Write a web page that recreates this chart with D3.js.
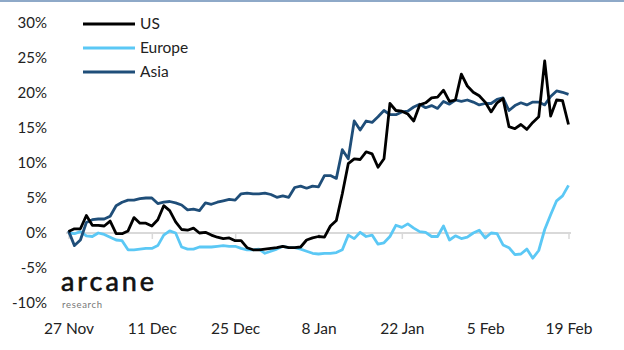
<!DOCTYPE html>
<html><head><meta charset="utf-8">
<script src="https://cdn.jsdelivr.net/npm/d3@7"></script>
<style>
html,body{margin:0;padding:0;background:#fff;}
svg{display:block;font-family:Lato,"Open Sans",sans-serif;}
</style></head>
<body>
<svg id="chart" width="624" height="350"></svg>
<script>
const startDate = new Date(2020, 10, 27);
const endDate = new Date(2021, 1, 19);
const seriesNames = ["US", "Europe", "Asia"];
const seriesColors = ["#000000", "#5BC8F5", "#1F4E79"];
const yTicks = [-10, -5, 0, 5, 10, 15, 20, 25, 30];
const xTickLabels = ["27 Nov", "11 Dec", "25 Dec", "8 Jan", "22 Jan", "5 Feb", "19 Feb"];

const us = [0.2,0.6,0.6,2.5,1.1,1.1,1.0,1.7,-0.1,-0.1,0.3,2.2,1.4,1.4,1.0,1.9,3.9,3.2,1.6,0.5,0.4,0.7,0.0,0.1,-0.3,-0.6,-0.8,-0.7,-1.1,-1.1,-2.1,-2.4,-2.4,-2.3,-2.2,-2.1,-1.9,-2.1,-2.1,-2.0,-1.0,-0.7,-0.5,-0.6,1.0,1.8,5.6,9.9,10.6,10.5,11.6,11.3,9.4,10.6,18.5,17.5,17.4,17.0,16.0,18.3,18.6,19.3,19.4,20.4,18.8,19.0,22.7,21.0,20.1,19.6,18.7,17.3,18.6,19.2,15.2,14.9,15.5,14.8,15.8,16.6,24.6,16.7,19.0,18.9,15.5];
const europe = [0.0,-0.1,0.2,-0.4,-0.5,0.0,-0.2,-0.6,-1.0,-1.1,-2.4,-2.4,-2.3,-2.2,-2.2,-1.8,-0.3,0.3,0.0,-2.0,-2.3,-2.3,-2.0,-2.0,-2.0,-1.9,-1.8,-1.9,-1.9,-2.2,-2.4,-2.4,-2.3,-2.9,-2.6,-2.3,-1.9,-2.1,-2.1,-2.3,-2.6,-2.9,-3.0,-2.9,-2.9,-2.8,-2.4,-0.3,-0.8,0.1,-0.5,-0.3,-1.6,-1.4,-0.5,1.1,0.8,1.3,0.7,0.2,0.1,-0.5,-0.5,1.0,-1.0,-0.4,-0.8,-0.6,0.0,0.4,-0.7,0.0,-0.1,-1.7,-2.1,-3.1,-3.0,-2.3,-3.6,-2.5,0.5,2.6,4.6,5.3,6.8];
const asia = [0.3,-1.8,-1.0,1.5,1.9,2.0,2.0,2.4,3.9,4.4,4.7,4.7,4.9,5.0,5.0,4.2,4.4,4.5,4.3,4.0,3.3,3.4,3.2,4.3,4.1,4.4,4.6,4.8,4.7,5.6,5.7,5.6,5.6,5.7,5.5,5.1,5.3,5.1,6.5,6.7,6.4,6.7,6.6,8.2,8.2,7.8,11.9,10.6,16.0,14.7,16.0,15.8,16.6,17.5,16.9,16.9,17.3,17.4,18.0,18.4,17.9,18.2,17.8,18.8,18.4,19.0,18.8,19.0,18.7,18.3,18.5,18.5,19.1,19.3,17.5,18.2,18.6,18.3,18.7,18.7,18.3,19.5,20.3,20.1,19.8];

const series = [us, europe, asia];
const dates = d3.timeDay.range(startDate, d3.timeDay.offset(endDate, 1));
const tickDates = xTickLabels.map((_, i) => d3.timeDay.offset(startDate, i * 14));

const svg = d3.select("#chart");
const x = d3.scaleTime().domain([startDate, endDate]).range([68.5, 568.5]);
const y = d3.scaleLinear().domain([-10, 30]).range([303, 23]);

// top frame line
svg.append("line").attr("x1", 0).attr("x2", 624).attr("y1", 1).attr("y2", 1)
  .attr("stroke", "#8EA9C8").attr("stroke-width", 2);

// y axis labels
const yAxis = d3.axisLeft(y).tickValues(yTicks).tickFormat(d => d + "%").tickSize(0).tickPadding(0);
const gy = svg.append("g").attr("transform", "translate(47,0)").call(yAxis);
gy.select(".domain").remove();
gy.selectAll("text").attr("font-size", 15).attr("fill", "#222").attr("font-family", "Lato, 'Open Sans', sans-serif");

// zero axis line with ticks
const xAxis = d3.axisBottom(x).tickValues(tickDates).tickFormat((d, i) => xTickLabels[i]).tickSize(6).tickSizeOuter(0);
const gx = svg.append("g").attr("transform", `translate(0,${y(0)})`).call(xAxis);
gx.select(".domain").attr("stroke", "#D9D9D9").attr("stroke-width", 2)
  .attr("d", `M66,0H571`);
gx.selectAll(".tick line").attr("stroke", "#D9D9D9").attr("stroke-width", 1.5);
gx.selectAll(".tick text").attr("y", 96).attr("dy", "0.32em")
  .attr("font-size", 15.5).attr("fill", "#222").attr("font-family", "Lato, 'Open Sans', sans-serif");

// lines
const line = d3.line().x((d, i) => x(dates[i])).y(d => y(d));
[europe, asia, us].forEach((s) => {
  const k = series.indexOf(s);
  svg.append("path").datum(s).attr("d", line).attr("fill", "none")
    .attr("stroke", seriesColors[k]).attr("stroke-width", 2.8)
    .attr("stroke-linejoin", "round");
});

// legend
const lg = svg.append("g");
seriesNames.forEach((n, i) => {
  const yy = 24 + i * 24;
  lg.append("line").attr("x1", 83).attr("x2", 135).attr("y1", yy).attr("y2", yy)
    .attr("stroke", seriesColors[i]).attr("stroke-width", 2.8);
  lg.append("text").attr("x", 140).attr("y", yy).attr("dy", "0.35em")
    .attr("font-size", 15.5).attr("fill", "#222").text(n);
});

// logo
svg.append("text").attr("x", 61).attr("y", 291).attr("font-size", 27)
  .attr("font-weight", 400).attr("fill", "#111").attr("stroke", "#111").attr("stroke-width", 0.6)
  .attr("textLength", 93).attr("lengthAdjust", "spacing").text("arcane");
svg.append("text").attr("x", 62).attr("y", 308).attr("font-size", 9.5)
  .attr("fill", "#777").attr("textLength", 40).attr("lengthAdjust", "spacing").text("research");
</script>
</body></html>
